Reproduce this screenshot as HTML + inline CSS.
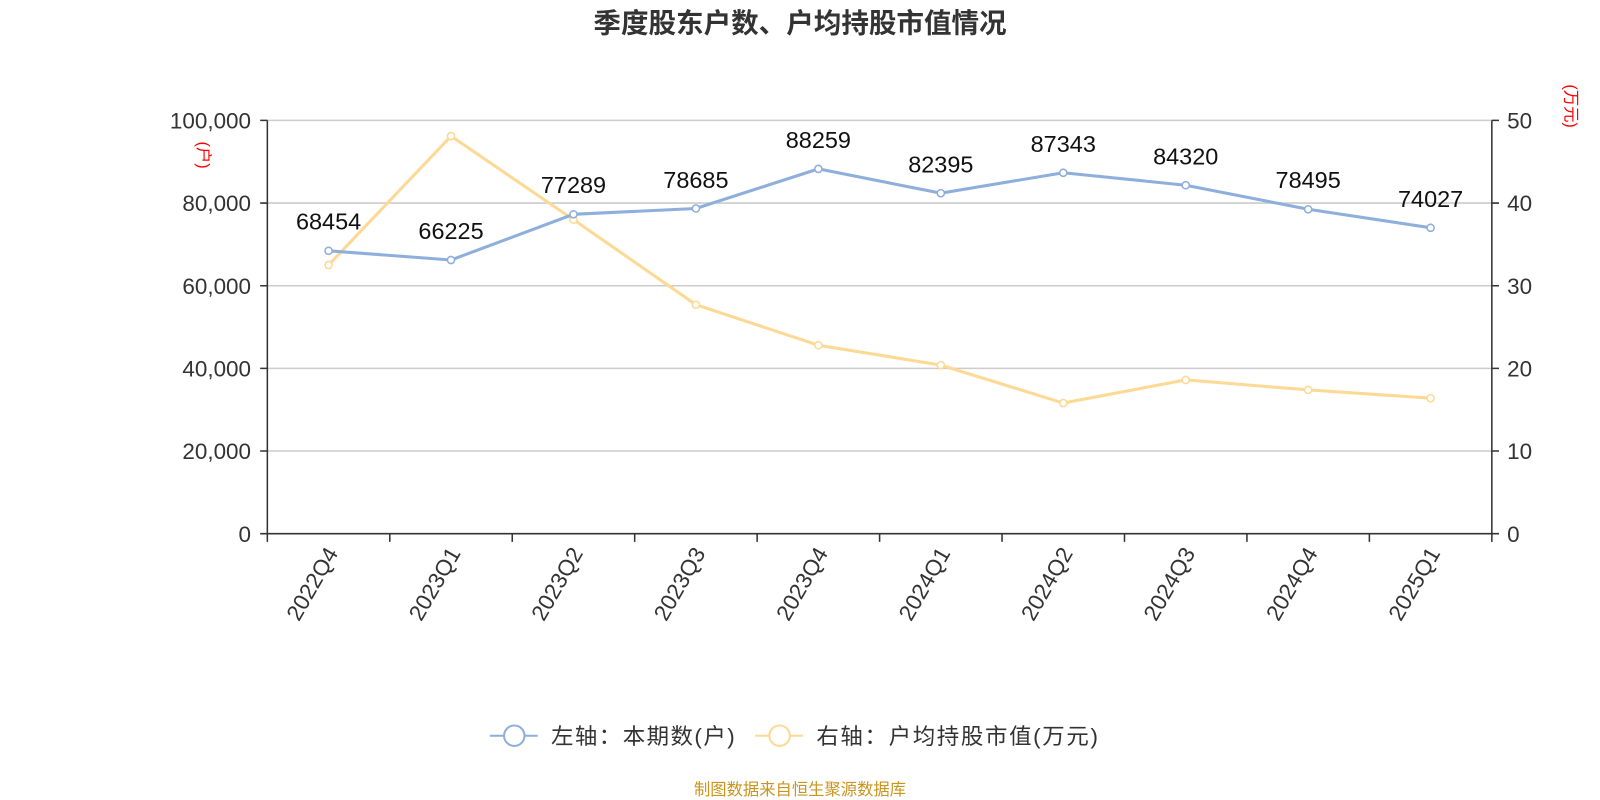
<!DOCTYPE html>
<html><head><meta charset="utf-8"><style>html,body{margin:0;padding:0;background:#fff}svg{display:block}text{font-family:"Liberation Sans","Noto Sans CJK SC",sans-serif}</style></head>
<body>
<svg width="1600" height="800" viewBox="0 0 1568 784" xmlns="http://www.w3.org/2000/svg">
<text x="784" y="32" text-anchor="middle" font-size="27" font-weight="bold" fill="#333">季度股东户数、户均持股市值情况</text>
<g stroke="#ccc" stroke-width="1.5">
<line x1="262" y1="118" x2="1462" y2="118"/><line x1="262" y1="199" x2="1462" y2="199"/><line x1="262" y1="280" x2="1462" y2="280"/><line x1="262" y1="361" x2="1462" y2="361"/><line x1="262" y1="442" x2="1462" y2="442"/>
</g>
<g stroke="#333" stroke-width="1.5" fill="none">
<line x1="262" y1="118" x2="262" y2="523"/><line x1="1462" y1="118" x2="1462" y2="523"/><line x1="262" y1="523" x2="1462" y2="523"/>
<path d="M255 118H262M255 199H262M255 280H262M255 361H262M255 442H262M255 523H262"/>
<path d="M1462 118H1469M1462 199H1469M1462 280H1469M1462 361H1469M1462 442H1469M1462 523H1469"/>
<path d="M262 523V531M382 523V531M502 523V531M622 523V531M742 523V531M862 523V531M982 523V531M1102 523V531M1222 523V531M1342 523V531M1462 523V531"/>
</g>
<g font-size="22" fill="#333" text-anchor="end">
<text x="246" y="126">100,000</text><text x="246" y="207">80,000</text><text x="246" y="288">60,000</text><text x="246" y="369">40,000</text><text x="246" y="450">20,000</text><text x="246" y="531">0</text>
</g>
<g font-size="22" fill="#333">
<text x="1477" y="126">50</text><text x="1477" y="207">40</text><text x="1477" y="288">30</text><text x="1477" y="369">20</text><text x="1477" y="450">10</text><text x="1477" y="531">0</text>
</g>
<text transform="translate(194,152) rotate(90)" font-size="16" fill="red" text-anchor="middle">(户)</text>
<text transform="translate(1534,104) rotate(90)" font-size="16" fill="red" text-anchor="middle">(万元)</text>
<g font-size="22" fill="#333" text-anchor="end">
<text transform="translate(332,542) rotate(-60)">2022Q4</text>
<text transform="translate(452,542) rotate(-60)">2023Q1</text>
<text transform="translate(572,542) rotate(-60)">2023Q2</text>
<text transform="translate(692,542) rotate(-60)">2023Q3</text>
<text transform="translate(812,542) rotate(-60)">2023Q4</text>
<text transform="translate(932,542) rotate(-60)">2024Q1</text>
<text transform="translate(1052,542) rotate(-60)">2024Q2</text>
<text transform="translate(1172,542) rotate(-60)">2024Q3</text>
<text transform="translate(1292,542) rotate(-60)">2024Q4</text>
<text transform="translate(1412,542) rotate(-60)">2025Q1</text>
</g>
<polyline fill="none" stroke="#fcd994" stroke-width="3" points="322,259.7 442,133.4 562,215.2 682,298.6 802,338.3 922,357.8 1042,395.0 1162,372.3 1282,382.1 1402,390.2"/>
<g fill="#fff" stroke="#fcd994" stroke-width="1.5">
<circle cx="322" cy="259.7" r="3.5"/><circle cx="442" cy="133.4" r="3.5"/><circle cx="562" cy="215.2" r="3.5"/><circle cx="682" cy="298.6" r="3.5"/><circle cx="802" cy="338.3" r="3.5"/><circle cx="922" cy="357.8" r="3.5"/><circle cx="1042" cy="395.0" r="3.5"/><circle cx="1162" cy="372.3" r="3.5"/><circle cx="1282" cy="382.1" r="3.5"/><circle cx="1402" cy="390.2" r="3.5"/>
</g>
<polyline fill="none" stroke="#8eaedc" stroke-width="3" points="322,245.8 442,254.8 562,210.0 682,204.3 802,165.5 922,189.3 1042,169.3 1162,181.5 1282,205.1 1402,223.2"/>
<g fill="#fff" stroke="#8eaedc" stroke-width="1.5">
<circle cx="322" cy="245.8" r="3.5"/><circle cx="442" cy="254.8" r="3.5"/><circle cx="562" cy="210.0" r="3.5"/><circle cx="682" cy="204.3" r="3.5"/><circle cx="802" cy="165.5" r="3.5"/><circle cx="922" cy="189.3" r="3.5"/><circle cx="1042" cy="169.3" r="3.5"/><circle cx="1162" cy="181.5" r="3.5"/><circle cx="1282" cy="205.1" r="3.5"/><circle cx="1402" cy="223.2" r="3.5"/>
</g>
<g font-size="23" fill="#111" text-anchor="middle">
<text x="322" y="225">68454</text><text x="442" y="234">66225</text><text x="562" y="189">77289</text><text x="682" y="184">78685</text><text x="802" y="145">88259</text><text x="922" y="169">82395</text><text x="1042" y="149">87343</text><text x="1162" y="161">84320</text><text x="1282" y="184">78495</text><text x="1402" y="203">74027</text>
</g>
<g stroke-width="2" fill="#fff">
<line x1="480" y1="721" x2="527" y2="721" stroke="#8eaedc"/><circle cx="504" cy="721" r="10" stroke="#8eaedc"/>
<line x1="740" y1="721" x2="787" y2="721" stroke="#fcd994"/><circle cx="764" cy="721" r="10" stroke="#fcd994"/>
</g>
<g font-size="22" fill="#333">
<text x="540" y="729" textLength="180">左轴：本期数(户)</text>
<text x="800" y="729" textLength="276">右轴：户均持股市值(万元)</text>
</g>
<text x="784" y="779" text-anchor="middle" font-size="16" fill="#c8951f">制图数据来自恒生聚源数据库</text>
</svg>
</body></html>
